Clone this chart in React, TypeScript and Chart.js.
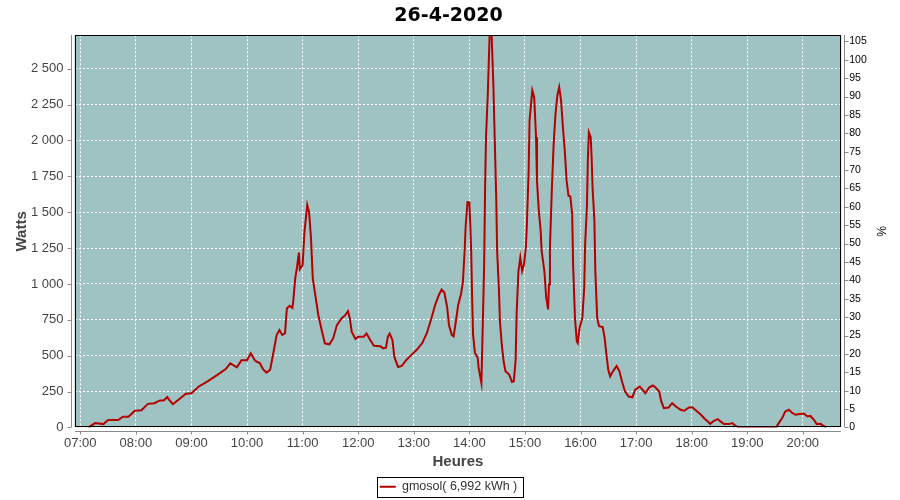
import React, { useEffect, useRef } from "react";
import { Chart, registerables } from "chart.js";

Chart.register(...registerables);

// ---- data ----
const chartTitle = "26-4-2020";
const seriesLabel = "gmosol( 6,992 kWh )";
const xTitle = "Heures";
const yTitle = "Watts";
const y1Title = "%";

const times = [
  "07:09", "07:16", "07:25", "07:30", "07:41", "07:46", "07:52", "07:59", "08:06", "08:13",
  "08:20", "08:26", "08:30", "08:34", "08:36", "08:40", "08:45", "08:49", "08:54", "09:00",
  "09:08", "09:17", "09:28", "09:37", "09:42", "09:49", "09:54", "10:00", "10:04", "10:09",
  "10:14", "10:17", "10:21", "10:25", "10:28", "10:32", "10:35", "10:38", "10:41", "10:43",
  "10:46", "10:49", "10:50", "10:52", "10:54", "10:56", "10:57", "11:00", "11:02", "11:05",
  "11:07", "11:09", "11:11", "11:14", "11:17", "11:21", "11:24", "11:29", "11:33", "11:37",
  "11:42", "11:46", "11:49", "11:51", "11:53", "11:57", "12:00", "12:06", "12:09", "12:13",
  "12:17", "12:24", "12:27", "12:30", "12:32", "12:34", "12:37", "12:39", "12:43", "12:47",
  "12:52", "12:58", "13:03", "13:09", "13:14", "13:19", "13:23", "13:27", "13:30", "13:33",
  "13:36", "13:38", "13:41", "13:43", "13:45", "13:48", "13:51", "13:53", "13:55", "13:56",
  "13:58", "14:00", "14:01", "14:02", "14:03", "14:04", "14:06", "14:09", "14:10", "14:12",
  "14:13", "14:14", "14:16", "14:17", "14:18", "14:20", "14:21", "14:22", "14:24", "14:25",
  "14:26", "14:27", "14:29", "14:30", "14:32", "14:33", "14:35", "14:37", "14:39", "14:43",
  "14:46", "14:48", "14:50", "14:51", "14:53", "14:55", "14:57", "14:59", "15:01", "15:02",
  "15:04", "15:05", "15:07", "15:08", "15:10", "15:12", "15:13", "15:15", "15:17", "15:18",
  "15:21", "15:23", "15:25", "15:26", "15:27", "15:29", "15:31", "15:33", "15:35", "15:37",
  "15:39", "15:41", "15:43", "15:45", "15:47", "15:49", "15:51", "15:52", "15:54", "15:56",
  "15:57", "15:59", "16:02", "16:04", "16:05", "16:07", "16:08", "16:09", "16:11", "16:12",
  "16:13", "16:15", "16:16", "16:18", "16:20", "16:24", "16:26", "16:28", "16:30", "16:32",
  "16:35", "16:39", "16:42", "16:45", "16:48", "16:52", "16:56", "16:59", "17:04", "17:08",
  "17:10", "17:14", "17:18", "17:21", "17:25", "17:27", "17:30", "17:35", "17:39", "17:43",
  "17:48", "17:52", "17:57", "18:01", "18:06", "18:10", "18:14", "18:18", "18:20", "18:24",
  "18:28", "18:31", "18:35", "18:40", "18:44", "18:47", "18:51", "19:31", "19:34", "19:38",
  "19:41", "19:45", "19:48", "19:52", "19:57", "20:01", "20:05", "20:08", "20:12", "20:15",
  "20:19", "20:22", "20:25",
];

const watts = [
  0, 30, 23, 51, 51, 74, 74, 116, 120, 164,
  169, 188, 188, 211, 192, 162, 188, 208, 234, 238,
  285, 319, 366, 407, 447, 419, 468, 468, 516, 463,
  447, 407, 382, 402, 505, 644, 678, 644, 655, 829,
  847, 833, 887, 1037, 1118, 1218, 1102, 1130, 1361, 1551,
  1500, 1327, 1037, 910, 782, 667, 586, 579, 620, 713,
  759, 782, 810, 759, 667, 616, 632, 632, 655, 609,
  569, 565, 551, 556, 632, 655, 609, 493, 421, 428,
  470, 509, 539, 586, 655, 759, 852, 921, 961, 940,
  840, 713, 645, 634, 720, 855, 930, 1010, 1242, 1400,
  1570, 1568, 1417, 1230, 904, 648, 520, 485, 415, 345,
  310, 578, 1137, 1673, 2022, 2337, 2558, 2750, 2750, 2558,
  2372, 2116, 1603, 1230, 951, 741, 578, 461, 391, 368,
  317, 322, 473, 788, 1090, 1184, 1090, 1137, 1254, 1393,
  1789, 2139, 2279, 2349, 2302, 2022, 1720, 1510, 1370, 1230,
  1090, 904, 822, 997, 1254, 1650, 1976, 2186, 2314, 2372,
  2279, 2092, 1929, 1720, 1615, 1610, 1487, 1137, 764, 601,
  589, 694, 764, 974, 1277, 1556, 1883, 2057, 2022, 1883,
  1673, 1440, 1090, 764, 706, 699, 624, 508, 400, 356,
  391, 428, 391, 315, 252, 215, 210, 263, 285, 255,
  238, 278, 292, 278, 250, 185, 134, 139, 169, 146,
  123, 116, 139, 139, 111, 88, 60, 37, 25, 46,
  58, 42, 23, 23, 30, 12, 0, 0, 30, 69,
  111, 123, 104, 88, 93, 97, 76, 81, 53, 23,
  25, 12, 0,
];

const hourTicks = [
  "07:00", "08:00", "09:00", "10:00", "11:00", "12:00", "13:00",
  "14:00", "15:00", "16:00", "17:00", "18:00", "19:00", "20:00",
];
const wattTicks = [0, 250, 500, 750, 1000, 1250, 1500, 1750, 2000, 2250, 2500];
const percentTicks = [
  0, 5, 10, 15, 20, 25, 30, 35, 40, 45, 50,
  55, 60, 65, 70, 75, 80, 85, 90, 95, 100, 105,
];

// axis ranges (minutes since midnight / watts / percent)
const X_MIN = 413.8;
const X_MAX = 1241.5;
const W_MAX = 2733;
const P_MAX = 106.67;

// ---- helpers ----
const toMin = (s: string) => {
  const [h, m] = s.split(":").map(Number);
  return h * 60 + m;
};
const fmtHM = (v: number) => {
  const h = Math.floor(v / 60);
  const m = Math.round(v - h * 60);
  return String(h).padStart(2, "0") + ":" + String(m).padStart(2, "0");
};
const fmtThousands = (v: number) =>
  String(v).replace(/\B(?=(\d{3})+(?!\d))/g, " ");

const PLOT_BG = "#9fc3c2";
const LINE = "#b30000";
const AXIS = "#8a8a8a";
const FONT = "'Liberation Sans', Arial, sans-serif";

const framePlugin = {
  id: "frame",
  beforeDraw(chart: any) {
    const { ctx, chartArea: a } = chart;
    ctx.save();
    ctx.fillStyle = PLOT_BG;
    ctx.fillRect(a.left, a.top, a.right - a.left, a.bottom - a.top);
    ctx.restore();
  },
  afterDraw(chart: any) {
    const { ctx, chartArea: a, scales } = chart;
    const L = Math.round(a.left);
    const R = Math.round(a.right);
    const T = Math.round(a.top);
    const B = Math.round(a.bottom);
    ctx.save();
    ctx.lineWidth = 1;
    const seg = (x1: number, y1: number, x2: number, y2: number) => {
      ctx.beginPath();
      ctx.moveTo(x1, y1);
      ctx.lineTo(x2, y2);
      ctx.stroke();
    };
    // plot border
    ctx.strokeStyle = "#000";
    ctx.strokeRect(L + 0.5, T + 0.5, R - L - 1, B - T - 1);
    // axis lines & tick marks
    ctx.strokeStyle = AXIS;
    const lx = L - 3.5;
    seg(lx, T, lx, B);
    scales.y.ticks.forEach((t: any) => {
      const py = Math.round(scales.y.getPixelForValue(t.value)) + 0.5;
      seg(lx - 4, py, lx, py);
    });
    const rx = R + 3.5;
    seg(rx, T, rx, B);
    scales.y1.ticks.forEach((t: any) => {
      const py = Math.round(scales.y1.getPixelForValue(t.value)) + 0.5;
      seg(rx, py, rx + 4, py);
    });
    const by = B + 4.5;
    seg(L, by, R, by);
    scales.x.ticks.forEach((t: any) => {
      const px = Math.round(scales.x.getPixelForValue(t.value)) + 0.5;
      seg(px, by, px, by + 3);
    });
    // legend frame
    const lg = chart.legend;
    if (lg && lg.legendHitBoxes && lg.legendHitBoxes.length) {
      const h = lg.legendHitBoxes[0];
      const cy = h.top + h.height / 2;
      ctx.strokeStyle = "#000";
      ctx.strokeRect(Math.round(h.left - 3) + 0.5, Math.round(cy - 10) + 0.5, Math.round(h.width + 8), 20);
    }
    ctx.restore();
  },
};

export default function App() {
  const ref = useRef<HTMLCanvasElement | null>(null);

  useEffect(() => {
    document.body.style.margin = "0";
    const canvas = ref.current;
    if (!canvas) return;
    const points = times.map((t, i) => ({ x: toMin(t), y: watts[i] }));
    const chart = new Chart(canvas, {
      type: "line",
      data: {
        datasets: [
          {
            label: seriesLabel,
            data: points,
            borderColor: LINE,
            backgroundColor: LINE,
            borderWidth: 2,
            pointRadius: 0,
            tension: 0,
            yAxisID: "y",
          },
        ],
      },
      plugins: [framePlugin],
      options: {
        responsive: false,
        animation: false,
        events: [],
        layout: { padding: { left: 7, right: 10, top: 0, bottom: -3 } },
        plugins: {
          title: {
            display: true,
            text: chartTitle,
            color: "#000",
            font: { family: "'DejaVu Sans', sans-serif", size: 19, weight: "bold" },
            padding: { top: 4.5, bottom: 8 },
          },
          legend: {
            display: true,
            position: "bottom",
            labels: {
              color: "#333",
              font: { family: FONT, size: 12.5 },
              usePointStyle: true,
              pointStyle: "line",
              pointStyleWidth: 16,
              boxWidth: 16,
              padding: 2,
            },
          },
          tooltip: { enabled: false },
        },
        scales: {
          x: {
            type: "linear",
            min: X_MIN,
            max: X_MAX,
            afterBuildTicks: (axis: any) => {
              axis.ticks = hourTicks.map((h) => ({ value: toMin(h) }));
            },
            ticks: {
              autoSkip: false,
              maxRotation: 0,
              color: "#444",
              font: { family: FONT, size: 13 },
              padding: 1,
              callback: (v: any) => fmtHM(Number(v)),
            },
            grid: {
              color: "#ffffff",
              lineWidth: 1,
              drawTicks: true,
              tickLength: 7,
              tickColor: "rgba(0,0,0,0)",
            },
            border: { display: false, dash: [2, 2] },
            title: {
              display: true,
              text: xTitle,
              color: "#444",
              font: { family: FONT, size: 15, weight: "bold" },
              padding: { top: 1, bottom: 7.5 },
            },
          },
          y: {
            type: "linear",
            position: "left",
            min: 0,
            max: W_MAX,
            afterBuildTicks: (axis: any) => {
              axis.ticks = wattTicks.map((v) => ({ value: v }));
            },
            ticks: {
              autoSkip: false,
              color: "#444",
              font: { family: FONT, size: 13 },
              padding: 4,
              callback: (v: any) => fmtThousands(Number(v)),
            },
            grid: {
              color: "#ffffff",
              lineWidth: 1,
              drawTicks: true,
              tickLength: 7,
              tickColor: "rgba(0,0,0,0)",
            },
            border: { display: false, dash: [2, 2] },
            title: {
              display: true,
              text: yTitle,
              color: "#444",
              font: { family: FONT, size: 15, weight: "bold" },
              padding: { top: 5.5, bottom: -3.5 },
            },
          },
          y1: {
            type: "linear",
            position: "right",
            min: 0,
            max: P_MAX,
            afterBuildTicks: (axis: any) => {
              axis.ticks = percentTicks.map((v) => ({ value: v }));
            },
            ticks: {
              autoSkip: false,
              color: "#000",
              font: { family: FONT, size: 10.5 },
              padding: 1,
              callback: (v: any) => String(v),
            },
            grid: {
              drawOnChartArea: false,
              drawTicks: true,
              tickLength: 7,
              tickColor: "rgba(0,0,0,0)",
            },
            border: { display: false },
            title: {
              display: true,
              text: y1Title,
              color: "#000",
              font: { family: FONT, size: 12 },
              padding: { top: 2, bottom: 5.8 },
            },
          },
        },
      },
    } as any);
    return () => chart.destroy();
  }, []);

  return (
    <div style={{ position: "absolute", left: 0, top: 0, width: 900, height: 500, background: "#fff" }}>
      <canvas ref={ref} width={900} height={500} style={{ display: "block" }} />
    </div>
  );
}
